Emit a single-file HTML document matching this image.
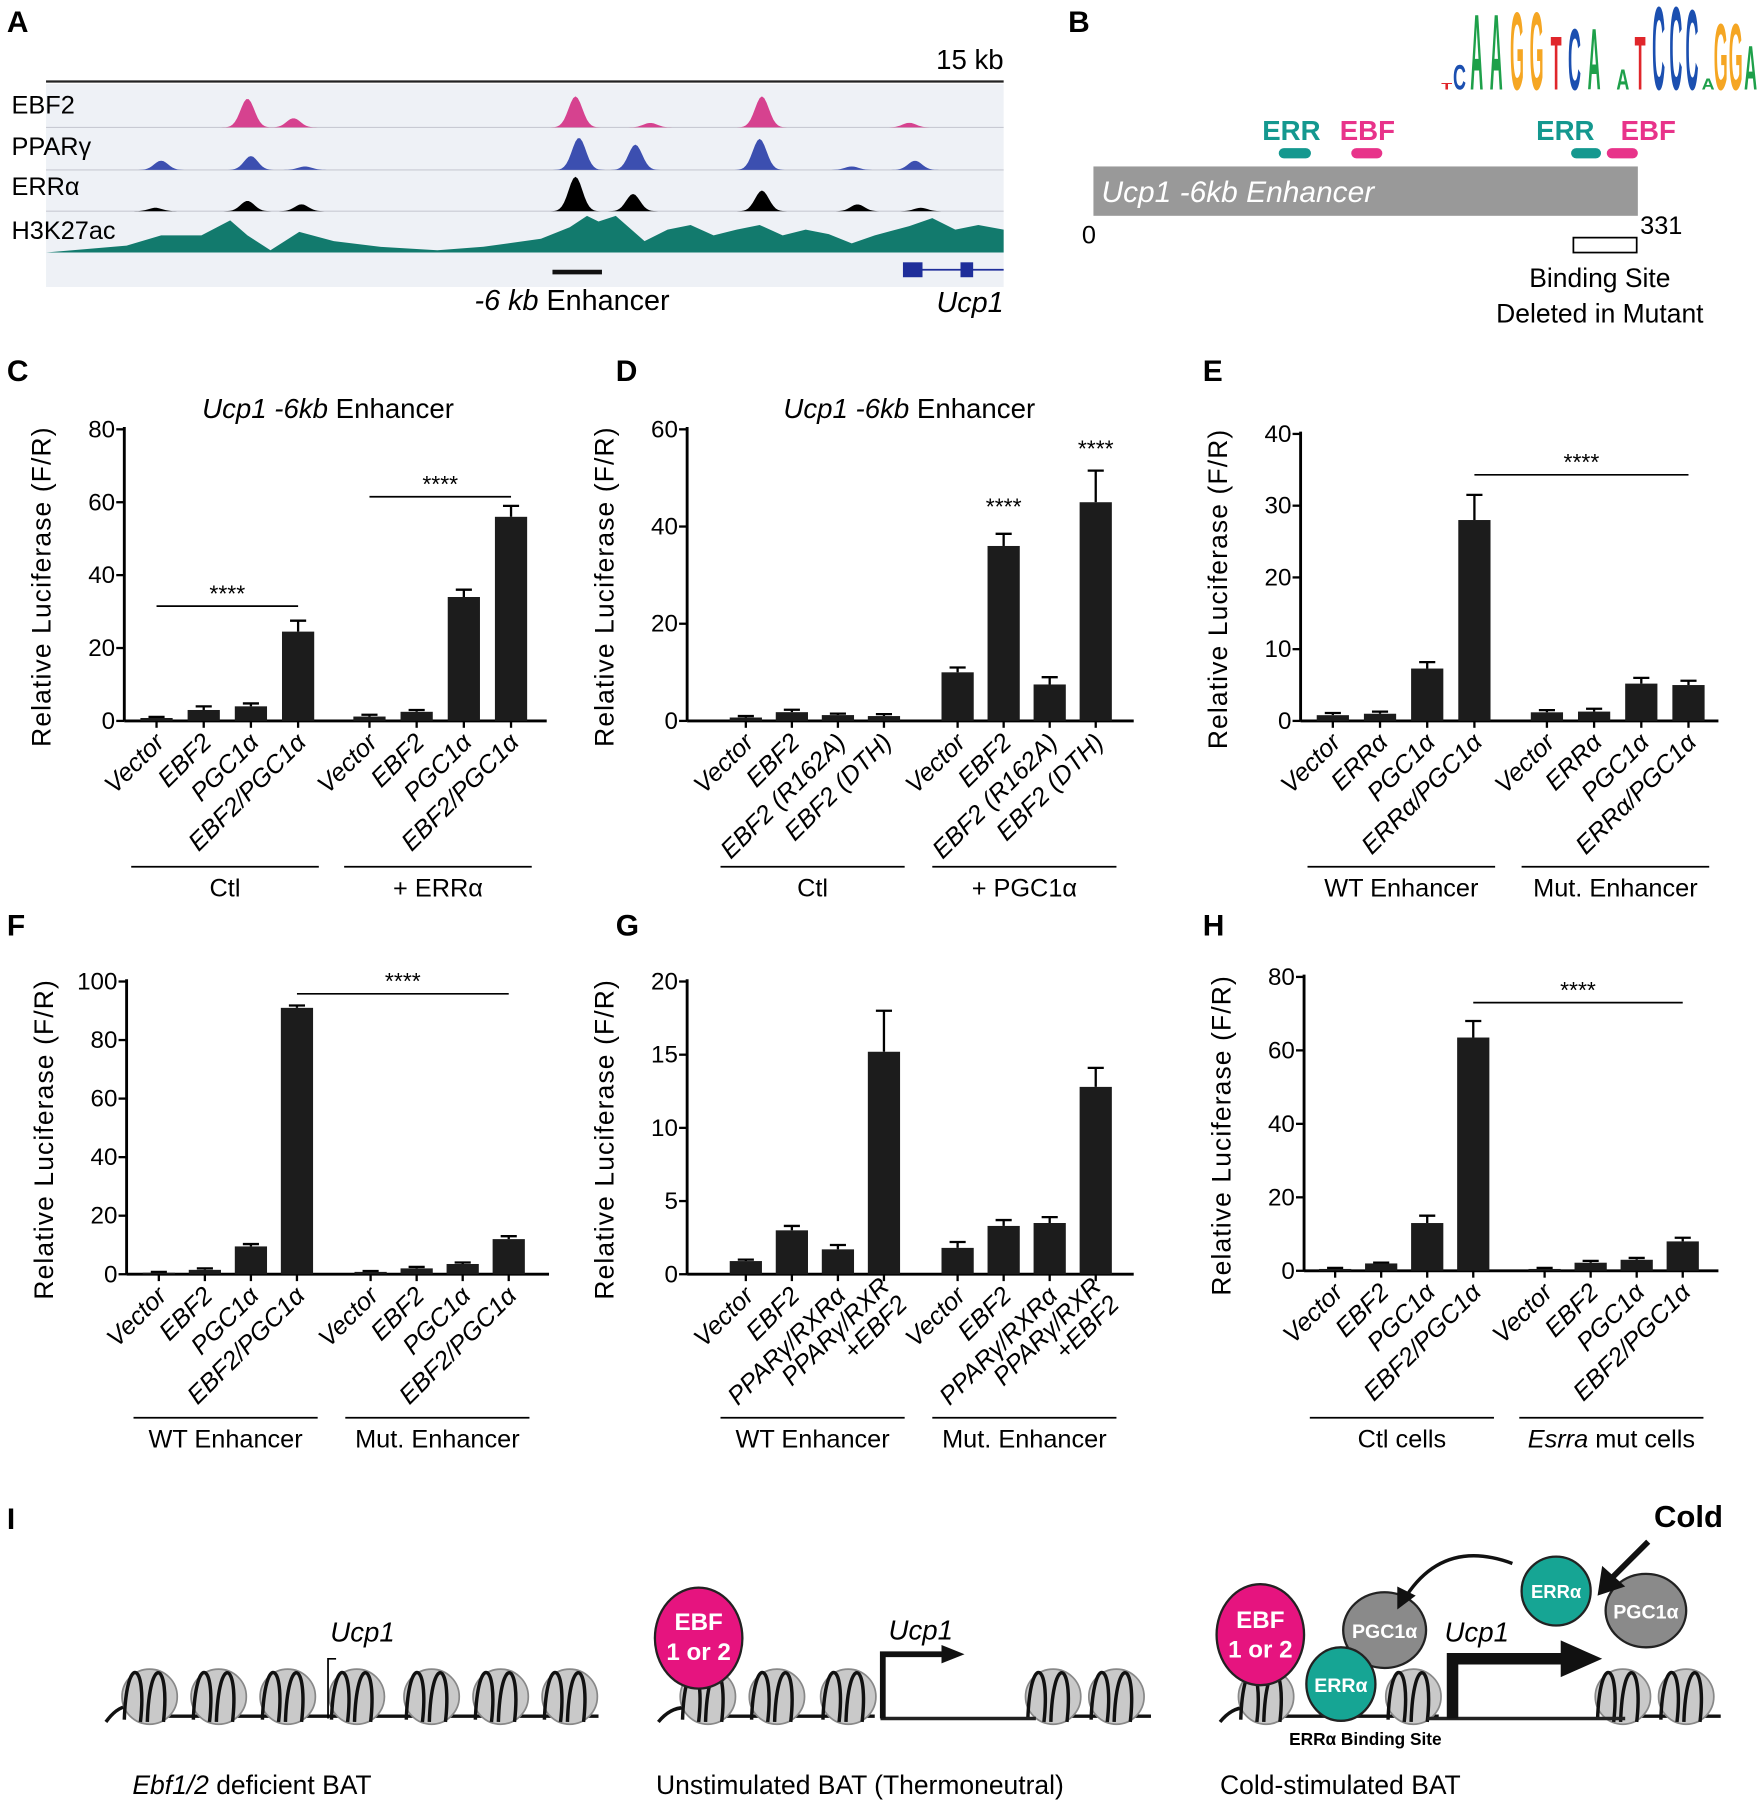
<!DOCTYPE html>
<html><head><meta charset="utf-8">
<style>
html,body{margin:0;padding:0;background:#fff;}
svg{display:block;font-family:"Liberation Sans",Arial,sans-serif;}
</style></head>
<body>
<svg id="fig" xmlns="http://www.w3.org/2000/svg" width="1761" height="1800" viewBox="0 0 1530 1568" preserveAspectRatio="none">
<rect x="0" y="0" width="1530" height="1568" fill="#fff"/>
<g font-weight="bold" font-size="26" fill="#000">
<text x="6" y="28">A</text><text x="928" y="28">B</text>
<text x="6" y="332">C</text><text x="535" y="332">D</text><text x="1045" y="332">E</text>
<text x="6" y="815">F</text><text x="535" y="815">G</text><text x="1045" y="815">H</text>
<text x="6" y="1332">I</text>
</g>

<g id="panelA">
<rect x="40" y="73" width="832" height="177" fill="#eef1f6"/>
<text x="872" y="60" text-anchor="end" font-size="24">15 kb</text>
<line x1="40" y1="71" x2="872" y2="71" stroke="#222" stroke-width="2"/>
<g font-size="22">
<text x="10" y="99">EBF2</text><text x="10" y="135">PPARγ</text><text x="10" y="170">ERRα</text><text x="10" y="208">H3K27ac</text>
</g>
<g id="tracks"></g>
<line x1="480" y1="237" x2="523" y2="237" stroke="#111" stroke-width="4"/>
<text x="497" y="270" text-anchor="middle" font-size="25"><tspan font-style="italic">-6 kb</tspan> Enhancer</text>
<g fill="#1f2e9a" stroke="#1f2e9a">
<line x1="785" y1="235" x2="872" y2="235" stroke-width="1.5"/>
<rect x="785" y="229" width="16" height="12"/><rect x="835" y="229" width="10" height="12"/>
</g>
<text x="872" y="272" text-anchor="end" font-size="25" font-style="italic">Ucp1</text>
</g>

<g id="panelB">
<g id="logo" font-weight="bold" font-size="20"></g>
<g font-size="24" font-weight="bold">
<text x="1122" y="122" text-anchor="middle" fill="#14988f">ERR</text>
<text x="1188" y="122" text-anchor="middle" fill="#e8338a">EBF</text>
<text x="1360" y="122" text-anchor="middle" fill="#14988f">ERR</text>
<text x="1432" y="122" text-anchor="middle" fill="#e8338a">EBF</text>
</g>
<rect x="1111" y="129" width="28" height="9" rx="4.5" fill="#14988f"/>
<rect x="1174" y="129" width="27" height="9" rx="4.5" fill="#e8338a"/>
<rect x="1365" y="129" width="26" height="9" rx="4.5" fill="#14988f"/>
<rect x="1396" y="129" width="27" height="9" rx="4.5" fill="#e8338a"/>
<rect x="950" y="145" width="473" height="43" fill="#999"/>
<text x="957" y="176" font-size="26" font-style="italic" fill="#fff">Ucp1 -6kb Enhancer</text>
<text x="940" y="212" font-size="22">0</text>
<text x="1425" y="204" font-size="22">331</text>
<rect x="1367" y="207" width="55" height="13" fill="none" stroke="#000" stroke-width="1.5"/>
<text x="1390" y="250" text-anchor="middle" font-size="23">Binding Site</text>
<text x="1390" y="281" text-anchor="middle" font-size="23">Deleted in Mutant</text>
</g>

<g id="charts"></g>

<g id="panelI">
<g id="nucs"></g>
<path d="M285 1497 V1445 H292" stroke="#000" stroke-width="1.5" fill="none"/>
<text x="315" y="1430" text-anchor="middle" font-size="24" font-style="italic">Ucp1</text>
<text x="115" y="1563" font-size="23"><tspan font-style="italic">Ebf1/2</tspan> deficient BAT</text>
<path d="M765 1497 H900" stroke="#222" stroke-width="3" fill="none"/>
<path d="M767 1497 V1441 H820" stroke="#111" stroke-width="5" fill="none"/>
<polygon points="818,1433 838,1441 818,1449" fill="#111"/>
<text x="800" y="1428" text-anchor="middle" font-size="24" font-style="italic">Ucp1</text>
<ellipse cx="607" cy="1427" rx="38" ry="44" fill="#e6147f" stroke="#222" stroke-width="2"/>
<text x="607" y="1420" text-anchor="middle" font-size="21" font-weight="bold" fill="#fff">EBF</text>
<text x="607" y="1446" text-anchor="middle" font-size="21" font-weight="bold" fill="#fff">1 or 2</text>
<text x="570" y="1563" font-size="23">Unstimulated BAT (Thermoneutral)</text>
<path d="M1240 1497 H1412" stroke="#222" stroke-width="3" fill="none"/>
<path d="M1262 1497 V1445 H1360" stroke="#111" stroke-width="10" fill="none"/>
<polygon points="1356,1429 1392,1445 1356,1461" fill="#111"/>
<text x="1283" y="1430" text-anchor="middle" font-size="24" font-style="italic">Ucp1</text>
<ellipse cx="1095" cy="1424" rx="38" ry="44" fill="#e6147f" stroke="#222" stroke-width="2"/>
<text x="1095" y="1418" text-anchor="middle" font-size="21" font-weight="bold" fill="#fff">EBF</text>
<text x="1095" y="1444" text-anchor="middle" font-size="21" font-weight="bold" fill="#fff">1 or 2</text>
<ellipse cx="1203" cy="1420" rx="36" ry="33" fill="#8a8a8a" stroke="#222" stroke-width="2"/>
<text x="1203" y="1427" text-anchor="middle" font-size="17" font-weight="bold" fill="#fff">PGC1α</text>
<ellipse cx="1165" cy="1467" rx="30" ry="32" fill="#16a594" stroke="#222" stroke-width="2"/>
<text x="1165" y="1474" text-anchor="middle" font-size="17" font-weight="bold" fill="#fff">ERRα</text>
<ellipse cx="1352" cy="1386" rx="30" ry="30" fill="#16a594" stroke="#222" stroke-width="2"/>
<text x="1352" y="1392" text-anchor="middle" font-size="16" font-weight="bold" fill="#fff">ERRα</text>
<ellipse cx="1430" cy="1403" rx="35" ry="32" fill="#8a8a8a" stroke="#222" stroke-width="2"/>
<text x="1430" y="1410" text-anchor="middle" font-size="17" font-weight="bold" fill="#fff">PGC1α</text>
<text x="1497" y="1330" text-anchor="end" font-size="27" font-weight="bold">Cold</text>
<line x1="1432" y1="1343" x2="1400" y2="1375" stroke="#111" stroke-width="5"/>
<polygon points="1388,1390 1392,1364 1412,1382" fill="#111"/>
<path d="M1314 1362 Q1255 1340 1222 1390" stroke="#111" stroke-width="3" fill="none"/>
<polygon points="1214,1402 1214,1382 1230,1390" fill="#111"/>
<text x="1120" y="1520" font-size="15" font-weight="bold">ERRα Binding Site</text>
<text x="1060" y="1563" font-size="23">Cold-stimulated BAT</text>
</g>
</svg>

<script>
const cCats=["Vector","EBF2","PGC1α","EBF2/PGC1α","Vector","EBF2","PGC1α","EBF2/PGC1α"];
const cVals=[0.8,3,4,24.5,1.2,2.5,34,56];
const cErr=[0.3,1,0.8,3,0.5,0.5,2,3];
const cTicks=[0,20,40,60,80];
const cGroups=["Ctl","+ ERRα"];

const dCats=["Vector","EBF2","EBF2 (R162A)","EBF2 (DTH)","Vector","EBF2","EBF2 (R162A)","EBF2 (DTH)"];
const dVals=[0.7,1.8,1.2,1.0,10,36,7.5,45];
const dErr=[0.3,0.5,0.3,0.4,1,2.5,1.5,6.5];
const dTicks=[0,20,40,60];
const dGroups=["Ctl","+ PGC1α"];

const eCats=["Vector","ERRα","PGC1α","ERRα/PGC1α","Vector","ERRα","PGC1α","ERRα/PGC1α"];
const eVals=[0.8,1,7.3,28,1.2,1.3,5.2,5];
const eErr=[0.3,0.3,0.9,3.5,0.3,0.4,0.8,0.6];
const eTicks=[0,10,20,30,40];
const eGroups=["WT Enhancer","Mut. Enhancer"];

const fCats=["Vector","EBF2","PGC1α","EBF2/PGC1α","Vector","EBF2","PGC1α","EBF2/PGC1α"];
const fVals=[0.5,1.5,9.5,91,0.8,2,3.5,12];
const fErr=[0.3,0.5,0.8,0.8,0.3,0.5,0.5,1];
const fTicks=[0,20,40,60,80,100];
const fGroups=["WT Enhancer","Mut. Enhancer"];

const gCats=["Vector","EBF2","PPARγ/RXRα","PPARγ/RXR|+EBF2","Vector","EBF2","PPARγ/RXRα","PPARγ/RXR|+EBF2"];
const gVals=[0.9,3,1.7,15.2,1.8,3.3,3.5,12.8];
const gErr=[0.1,0.3,0.3,2.8,0.4,0.4,0.4,1.3];
const gTicks=[0,5,10,15,20];
const gGroups=["WT Enhancer","Mut. Enhancer"];

const hCats=["Vector","EBF2","PGC1α","EBF2/PGC1α","Vector","EBF2","PGC1α","EBF2/PGC1α"];
const hVals=[0.5,2,13,63.5,0.5,2.2,3,8];
const hErr=[0.3,0.2,2,4.5,0.3,0.5,0.5,1];
const hTicks=[0,20,40,60,80];
const hGroups=["Ctl cells","Esrra mut cells"];

const NS="http://www.w3.org/2000/svg";
function mk(tag,attrs,parent){const e=document.createElementNS(NS,tag);for(const k in attrs)e.setAttribute(k,attrs[k]);if(parent)parent.appendChild(e);return e;}

function drawChart(id,cats,vals,errs,ticks,groups,L){
  const root=document.getElementById('charts');
  const g=mk('g',{},root);
  
  
  const yMax=ticks[ticks.length-1];
  const yS=v=>L.y0-(v/yMax)*(L.y0-L.yTop);
  const xS=i=>L.bx+i*L.step+(i>=4?L.gap:0);
  mk('line',{x1:L.ax,y1:L.yTop-2,x2:L.ax,y2:L.y0,stroke:'#000','stroke-width':2.5},g);
  mk('line',{x1:L.ax,y1:L.y0,x2:L.axEnd,y2:L.y0,stroke:'#000','stroke-width':2.5},g);
  ticks.forEach(t=>{
    mk('line',{x1:L.ax-7,y1:yS(t),x2:L.ax,y2:yS(t),stroke:'#000','stroke-width':2},g);
    const tx=mk('text',{x:L.ax-8,y:yS(t)+7,'text-anchor':'end','font-size':21},g);
    tx.textContent=t;
    
    
  });
  const yt=mk('text',{transform:`translate(${L.ax-64},${(L.yTop+L.y0)/2+10}) rotate(-90)`,'text-anchor':'middle','font-size':23,'letter-spacing':'1'},g);
  yt.textContent='Relative Luciferase (F/R)';
  
  
  vals.forEach((v,i)=>{
    const x=xS(i),w=28;
    const top=yS(v+errs[i]);
    mk('line',{x1:x,y1:yS(v),x2:x,y2:top,stroke:'#000','stroke-width':2},g);
    mk('line',{x1:x-7,y1:top,x2:x+7,y2:top,stroke:'#000','stroke-width':2},g);
    const b=mk('rect',{x:x-w/2,y:yS(v),width:w,height:L.y0-yS(v),fill:'#1c1c1c'},g);
    
    
    mk('line',{x1:x,y1:L.y0,x2:x,y2:L.y0+6,stroke:'#000','stroke-width':2},g);
    const parts=cats[i].split('|');
    const lab=mk('text',{transform:`translate(${x+8},${L.y0+20}) rotate(-45)`,'text-anchor':'end','font-size':22,'font-style':'italic'},g);
    parts.forEach((p,k)=>{const ts=mk('tspan',{x:0,dy:k?22:0},lab);ts.textContent=p;});
    if(parts.length>1){lab.setAttribute('transform',`translate(${x+6},${L.y0+12}) rotate(-45)`);}
    
    
  });
  [[0,3],[4,7]].forEach((r,k)=>{
    const x1=xS(r[0])-22,x2=xS(r[1])+18;
    mk('line',{x1:x1,y1:L.gy,x2:x2,y2:L.gy,stroke:'#000','stroke-width':1.5},g);
    const gt=mk('text',{x:(x1+x2)/2,y:L.gy+26,'text-anchor':'middle','font-size':22},g);
    if(groups[k].startsWith('Esrra')){const a=mk('tspan',{'font-style':'italic'},gt);a.textContent='Esrra';const b=mk('tspan',{},gt);b.textContent=' mut cells';}
    else gt.textContent=groups[k];
    
    
  });
  (L.sig||[]).forEach(s=>{
    let xa=xS(s[0]),xb=xS(s[1]);
    const yLine=yS(s[2]);
    if(s[0]!==s[1]) mk('line',{x1:xa,y1:yLine,x2:xb,y2:yLine,stroke:'#000','stroke-width':1.5},g);
    const st=mk('text',{x:(xa+xb)/2,y:yLine-4,'text-anchor':'middle','font-size':20},g);
    st.textContent='****';
  });
  if(L.title){
    const t=mk('text',{x:L.titleX,y:L.yTop-10,'text-anchor':'middle','font-size':24},g);
    const a=mk('tspan',{'font-style':'italic'},t);a.textContent='Ucp1 -6kb';
    const b=mk('tspan',{},t);b.textContent=' Enhancer';
  }
}

drawChart('c',cCats,cVals,cErr,cTicks,cGroups,{ax:108,axEnd:475,yTop:374,y0:628,bx:136,step:41,gap:21,gy:755,title:1,titleX:285,sig:[[0,3,31.5],[4,7,61.5]]});
drawChart('d',dCats,dVals,dErr,dTicks,dGroups,{ax:597,axEnd:985,yTop:374,y0:628,bx:648,step:40,gap:24,gy:755,title:1,titleX:790,sig:[[5,5,41.5],[7,7,53.5]]});
drawChart('e',eCats,eVals,eErr,eTicks,eGroups,{ax:1130,axEnd:1493,yTop:378,y0:628,bx:1158,step:41,gap:22,gy:755,sig:[[3,7,34.3]]});
drawChart('f',fCats,fVals,fErr,fTicks,fGroups,{ax:110,axEnd:477,yTop:855,y0:1110,bx:138,step:40,gap:24,gy:1235,sig:[[3,7,95.8]]});
drawChart('g',gCats,gVals,gErr,gTicks,gGroups,{ax:597,axEnd:985,yTop:855,y0:1110,bx:648,step:40,gap:24,gy:1235});
drawChart('h',hCats,hVals,hErr,hTicks,hGroups,{ax:1133,axEnd:1493,yTop:851,y0:1107,bx:1160,step:40,gap:22,gy:1235,sig:[[3,7,73]]});

const trackBase=[111,148,184,220];
const ebfPeaks=[[215,25],[255,8],[500,27],[565,4],[662,27],[790,4]];
const pparPeaks=[[140,8],[218,12],[265,3],[503,28],[552,22],[660,27],[740,3],[795,8]];
const errPeaks=[[135,3],[215,9],[262,6],[500,30],[550,15],[662,18],[745,6],[800,3]];
const h3Pts=[[40,220],[110,214],[140,205],[175,205],[200,192],[215,205],[235,218],[260,202],[290,210],[330,215],[380,218],[420,215],[470,208],[495,198],[510,188],[520,193],[535,188],[560,210],[580,200],[600,196],[620,205],[640,200],[660,196],[680,205],[700,200],[720,204],[740,212],[760,205],[790,197],[810,190],[830,200],[850,196],[872,200],[872,220]];
function peakPath(peaks,base,sigma){
  let d=`M40 ${base}`;
  for(let x=40;x<=872;x+=2){let h=0;peaks.forEach(p=>{h+=p[1]*Math.exp(-((x-p[0])**2)/(2*sigma*sigma));});d+=` L${x} ${(base-h).toFixed(1)}`;}
  return d+` L872 ${base} Z`;
}
const tr=document.getElementById('tracks');
[[ebfPeaks,'#d6428f'],[pparPeaks,'#3c4fb0'],[errPeaks,'#000']].forEach((t,k)=>{
  mk('line',{x1:40,y1:trackBase[k],x2:872,y2:trackBase[k],stroke:'#c8cad3','stroke-width':1},tr);
  const p=mk('path',{d:peakPath(t[0],trackBase[k],6),fill:t[1]},tr);
  
  
});
const h3=mk('path',{d:'M'+h3Pts.map(p=>p.join(' ')).join(' L')+' Z',fill:'#127a6d'},tr);



const col={A:'#1ea04a',C:'#1b4fb0',G:'#f5a623',T:'#e0262b'};
const logoLetters=[['T',1257,6],['C',1268,22],['A',1283,68],['A',1300,68],['G',1318,70],['G',1335,70],['T',1352,48],['C',1368,55],['A',1385,55],
['A',1410,18],['T',1425,48],['C',1441,75],['C',1456,75],['C',1470,72],['A',1484,10],['G',1495,60],['G',1508,60],['A',1521,40]];
const lg=document.getElementById('logo');
logoLetters.forEach(l=>{
  const t=mk('text',{transform:`translate(${l[1]},78) scale(0.78,${(l[2]/14.5).toFixed(2)})`,'text-anchor':'middle',fill:col[l[0]]},lg);
  t.textContent=l[0];
});

const nuc=document.getElementById('nucs');
const nucX=[[130,190,250,310,375,435,495],[615,675,737,915,970],[1100,1228,1410,1465]];
const nucY=1478;
mk('path',{d:'M92 1500 Q110 1475 130 1495 L520 1495',stroke:'#111','stroke-width':3,fill:'none'},nuc);
mk('path',{d:'M572 1500 Q590 1478 615 1495 L760 1495',stroke:'#111','stroke-width':3,fill:'none'},nuc);
mk('path',{d:'M900 1495 L1000 1495',stroke:'#111','stroke-width':3,fill:'none'},nuc);
mk('path',{d:'M1060 1500 Q1078 1478 1100 1495 L1250 1495',stroke:'#111','stroke-width':3,fill:'none'},nuc);
mk('path',{d:'M1400 1495 L1495 1495',stroke:'#111','stroke-width':3,fill:'none'},nuc);
nucX.forEach(arr=>arr.forEach(x=>{
  mk('circle',{cx:x,cy:nucY,r:24,fill:'#c9c9c9',stroke:'#888','stroke-width':1.5},nuc);
  mk('path',{d:`M${x-22} ${nucY+20} C${x-20} ${nucY-40} ${x-2} ${nucY-30} ${x-8} ${nucY+22} M${x-2} ${nucY+22} C${x} ${nucY-40} ${x+18} ${nucY-30} ${x+12} ${nucY+22}`,stroke:'#111','stroke-width':3,fill:'none'},nuc);
}));
</script>
</body></html>
